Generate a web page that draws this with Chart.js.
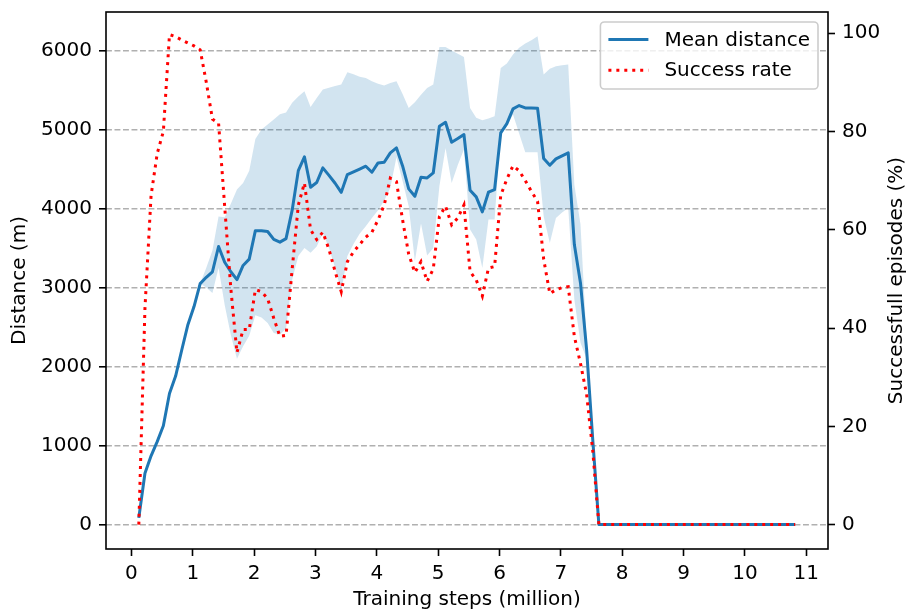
<!DOCTYPE html>
<html>
<head>
<meta charset="utf-8">
<script src="https://cdn.jsdelivr.net/npm/chart.js@4.4.0/dist/chart.umd.min.js"></script>
<style>
  html, body { margin: 0; padding: 0; background: #fff; }
  #chart { display: block; }
</style>
</head>
<body>
<canvas id="chart" width="909" height="613"></canvas>
<script>
// training steps in millions, one entry per logged evaluation
const steps = [
  0.12, 0.22, 0.32, 0.42, 0.52, 0.62, 0.72, 0.82, 0.92, 1.02,
  1.12, 1.22, 1.32, 1.42, 1.52, 1.62, 1.72, 1.82, 1.92, 2.02,
  2.12, 2.22, 2.32, 2.42, 2.52, 2.62, 2.72, 2.82, 2.92, 3.02,
  3.12, 3.22, 3.32, 3.42, 3.52, 3.62, 3.72, 3.82, 3.92, 4.02,
  4.12, 4.22, 4.32, 4.42, 4.52, 4.62, 4.72, 4.82, 4.92, 5.02,
  5.12, 5.22, 5.32, 5.42, 5.52, 5.62, 5.72, 5.82, 5.92, 6.02,
  6.12, 6.22, 6.32, 6.42, 6.52, 6.62, 6.72, 6.82, 6.92, 7.02,
  7.12, 7.22, 7.32, 7.42, 7.52, 7.62, 7.72, 7.82, 7.92, 8.02,
  8.12, 8.22, 8.32, 8.42, 8.52, 8.62, 8.72, 8.82, 8.92, 9.02,
  9.12, 9.22, 9.32, 9.42, 9.52, 9.62, 9.72, 9.82, 9.92, 10.02,
  10.12, 10.22, 10.32, 10.42, 10.52, 10.62, 10.72, 10.82
];

// mean distance (m)
const meanDistance = [
  85, 650, 870, 1050, 1250, 1660, 1880, 2210, 2530, 2760,
  3050, 3130, 3200, 3520, 3320, 3200, 3100, 3280, 3360, 3720,
  3720, 3710, 3610, 3575, 3620, 3980, 4480, 4655, 4270, 4330,
  4515, 4420, 4320, 4205, 4430, 4465, 4500, 4536, 4460, 4578,
  4586, 4705, 4768, 4540, 4249, 4156, 4397, 4388, 4451, 5042,
  5093, 4840, 4886, 4937, 4232, 4148, 3958, 4207, 4241, 4958,
  5076, 5262, 5304, 5274, 5272, 5270, 4633, 4548, 4629, 4667,
  4705, 3544, 3059, 2215, 1076, 0, 0, 0, 0, 0,
  0, 0, 0, 0, 0, 0, 0, 0, 0, 0,
  0, 0, 0, 0, 0, 0, 0, 0, 0, 0,
  0, 0, 0, 0, 0, 0, 0, 0
];

// upper edge of the shaded spread
const upperDistance = [
  85, 650, 870, 1050, 1250, 1660, 1880, 2210, 2530, 2760,
  3050, 3250, 3470, 3900, 3890, 4060, 4240, 4325, 4480, 4880,
  5000, 5063, 5127, 5195, 5215, 5340, 5420, 5485, 5287, 5400,
  5506, 5530, 5550, 5570, 5725, 5700, 5670, 5654, 5612, 5580,
  5557, 5590, 5612, 5450, 5274, 5346, 5440, 5527, 5570, 6046,
  6046, 6000, 5960, 5920, 5274, 5148, 5118, 5140, 5168, 5780,
  5835, 5950, 6034, 6090, 6130, 6181, 5696, 5770, 5802, 5815,
  5823, 4300, 3800, 2330, 1150, 0, 0, 0, 0, 0,
  0, 0, 0, 0, 0, 0, 0, 0, 0, 0,
  0, 0, 0, 0, 0, 0, 0, 0, 0, 0,
  0, 0, 0, 0, 0, 0, 0, 0
];

// lower edge of the shaded spread
const lowerDistance = [
  85, 650, 870, 1050, 1250, 1660, 1880, 2210, 2530, 2760,
  3050, 3000, 2930, 3250, 2780, 2400, 2100, 2257, 2390, 2650,
  2620, 2553, 2426, 2405, 2480, 3100, 3400, 3500, 3440, 3520,
  3690, 3500, 3250, 2950, 3400, 3550, 3680, 3776, 3880, 3980,
  4100, 4262, 4650, 4350, 4029, 3333, 3810, 3405, 3502, 4282,
  4768, 4325, 4550, 4747, 3734, 3608, 3249, 3861, 3861, 4979,
  5042, 5190, 4950, 4713, 4713, 4713, 3900, 3565, 3882, 3950,
  4008, 2850, 2300, 2100, 1000, 0, 0, 0, 0, 0,
  0, 0, 0, 0, 0, 0, 0, 0, 0, 0,
  0, 0, 0, 0, 0, 0, 0, 0, 0, 0,
  0, 0, 0, 0, 0, 0, 0, 0
];

// successful episodes (%)
const successRate = [
  0, 44, 67, 75.5, 80, 99.7, 99.3, 98.6, 98, 97.4,
  96.6, 90, 82.5, 81.7, 64.7, 48, 35, 39.7, 39.7, 47.8,
  47.4, 46, 42, 38.3, 38.5, 52, 65, 69.5, 60, 58,
  59.5, 56, 51.5, 47.4, 53.5, 55.5, 57, 58.5, 59.5, 62,
  65, 70.5, 69.8, 62, 55, 51.3, 53.5, 49.5, 52, 62.7,
  64.8, 61, 62.4, 65, 51.5, 49.8, 46.5, 52.2, 52.5, 67,
  70.3, 73, 72, 70, 67.8, 65.8, 54, 47, 47.8, 48.2,
  48.4, 38.3, 32.8, 26.5, 15, 0, 0, 0, 0, 0,
  0, 0, 0, 0, 0, 0, 0, 0, 0, 0,
  0, 0, 0, 0, 0, 0, 0, 0, 0, 0,
  0, 0, 0, 0, 0, 0, 0, 0
];

const stepTicks = [0, 1, 2, 3, 4, 5, 6, 7, 8, 9, 10, 11];
const distanceTicks = [0, 1000, 2000, 3000, 4000, 5000, 6000];
const successTicks = [0, 20, 40, 60, 80, 100];

const toPoints = (ys) => steps.map((x, i) => ({ x: x, y: ys[i] }));
const setTicks = (values) => (scale) => { scale.ticks = values.map(v => ({ value: v })); };
const plainLabel = (v) => String(v);
// keep the plot area where it is: no extra room for the end tick labels
const noEdgePadding = (s) => { s.paddingTop = 0; s.paddingBottom = 0; s.paddingLeft = 0; s.paddingRight = 0; };

Chart.defaults.font.family = "'DejaVu Sans', sans-serif";
Chart.defaults.font.size = 20;
Chart.defaults.color = '#000';

// black box round the plot area, on top of the lines like matplotlib spines
const frame = {
  id: 'frame',
  afterDatasetsDraw(chart) {
    const { ctx, chartArea: a } = chart;
    ctx.save();
    ctx.strokeStyle = '#000';
    ctx.lineWidth = 1.6;
    ctx.strokeRect(a.left, a.top, a.right - a.left, a.bottom - a.top);
    ctx.restore();
  }
};

// right axis title reads bottom to top, like the left one
const rightTitle = {
  id: 'rightTitle',
  afterDraw(chart) {
    const { ctx, chartArea: a } = chart;
    const s = chart.scales.y1;
    ctx.save();
    ctx.font = "20px 'DejaVu Sans'";
    ctx.fillStyle = '#000';
    ctx.textAlign = 'center';
    ctx.textBaseline = 'middle';
    ctx.translate(s.right - 12, (a.top + a.bottom) / 2);
    ctx.rotate(-Math.PI / 2);
    ctx.fillText(s.options.rightTitleText, 0, 0);
    ctx.restore();
  }
};

// legend box in the upper right corner
const boxLegend = {
  id: 'boxLegend',
  afterDraw(chart) {
    const { ctx, chartArea: a } = chart;
    const items = chart.data.datasets.filter(d => d.inLegend);
    items.sort((p, q) => p.legendOrder - q.legendOrder);
    ctx.save();
    ctx.font = "20px 'DejaVu Sans'";
    const textW = Math.max(...items.map(d => ctx.measureText(d.label).width));
    const w = 8 + 40 + 16 + textW + 8;
    const h = 67;
    const x = a.right - 10 - w;
    const y = a.top + 10;
    ctx.beginPath();
    ctx.roundRect(x, y, w, h, 4);
    ctx.fillStyle = 'rgba(255,255,255,0.8)';
    ctx.fill();
    ctx.strokeStyle = '#cccccc';
    ctx.lineWidth = 1.6;
    ctx.stroke();
    items.forEach((d, i) => {
      const cy = y + 17.5 + i * 30.7;
      ctx.beginPath();
      ctx.strokeStyle = d.borderColor;
      ctx.lineWidth = d.borderWidth;
      ctx.lineCap = d.borderCapStyle || 'butt';
      ctx.setLineDash(d.borderDash || []);
      ctx.moveTo(x + 8, cy);
      ctx.lineTo(x + 48, cy);
      ctx.stroke();
      ctx.setLineDash([]);
      ctx.fillStyle = '#000';
      ctx.textBaseline = 'middle';
      ctx.textAlign = 'left';
      ctx.fillText(d.label, x + 64, cy + 1);
    });
    ctx.restore();
  }
};

new Chart(document.getElementById('chart'), {
  type: 'line',
  data: {
    datasets: [
      {
        label: 'Success rate',
        inLegend: true, legendOrder: 1,
        data: toPoints(successRate),
        yAxisID: 'y1',
        borderColor: '#ff0000',
        borderWidth: 3,
        borderDash: [3, 4.95],
        borderCapStyle: 'butt',
        pointRadius: 0,
        fill: false,
        order: 0
      },
      {
        label: 'Mean distance',
        inLegend: true, legendOrder: 0,
        data: toPoints(meanDistance),
        yAxisID: 'y',
        borderColor: '#1f77b4',
        borderWidth: 3,
        borderJoinStyle: 'round',
        pointRadius: 0,
        fill: false,
        order: 1
      },
      {
        label: 'upper',
        data: toPoints(upperDistance),
        yAxisID: 'y',
        borderColor: 'rgba(0,0,0,0)',
        borderWidth: 1,
        pointRadius: 0,
        fill: '+1',
        backgroundColor: 'rgba(31,119,180,0.2)',
        order: 2
      },
      {
        label: 'lower',
        data: toPoints(lowerDistance),
        yAxisID: 'y',
        borderColor: 'rgba(0,0,0,0)',
        borderWidth: 1,
        pointRadius: 0,
        fill: false,
        order: 3
      }
    ]
  },
  options: {
    responsive: false,
    animation: false,
    devicePixelRatio: 1,
    layout: { padding: { top: 12, left: 0, right: 0, bottom: 0 } },
    plugins: {
      legend: { display: false },
      tooltip: { enabled: false }
    },
    scales: {
      x: {
        type: 'linear',
        min: -0.415,
        max: 11.355,
        afterBuildTicks: setTicks(stepTicks),
        afterFit: (s) => { s.height = 64; noEdgePadding(s); },
        border: { display: false },
        grid: { drawOnChartArea: false, drawTicks: true, tickLength: 7, tickWidth: 1.6, tickColor: '#000' },
        ticks: { padding: 6, maxRotation: 0, autoSkip: false, callback: plainLabel },
        title: { display: true, text: 'Training steps (million)', padding: { top: 0, bottom: 1 } }
      },
      y: {
        position: 'left',
        min: -309,
        max: 6488,
        afterBuildTicks: setTicks(distanceTicks),
        afterFit: (s) => { s.width = 106; noEdgePadding(s); },
        border: { display: false, dash: [5.9, 2.6] },
        grid: { color: '#b0b0b0', lineWidth: 1.6, drawTicks: true, tickLength: 7, tickWidth: 1.6, tickColor: '#000', tickBorderDash: [] },
        ticks: { padding: 7, autoSkip: false, callback: plainLabel },
        title: { display: true, text: 'Distance (m)', padding: { top: 8, bottom: 0 } }
      },
      y1: {
        position: 'right',
        min: -4.96,
        max: 104.3,
        rightTitleText: 'Successfull episodes (%)',
        afterBuildTicks: setTicks(successTicks),
        afterFit: (s) => { s.width = 81; noEdgePadding(s); },
        border: { display: false },
        grid: { drawOnChartArea: false, drawTicks: true, tickLength: 7, tickWidth: 1.6, tickColor: '#000' },
        ticks: { padding: 7, autoSkip: false, callback: plainLabel },
        title: { display: false }
      }
    }
  },
  plugins: [frame, rightTitle, boxLegend]
});
</script>
</body>
</html>
